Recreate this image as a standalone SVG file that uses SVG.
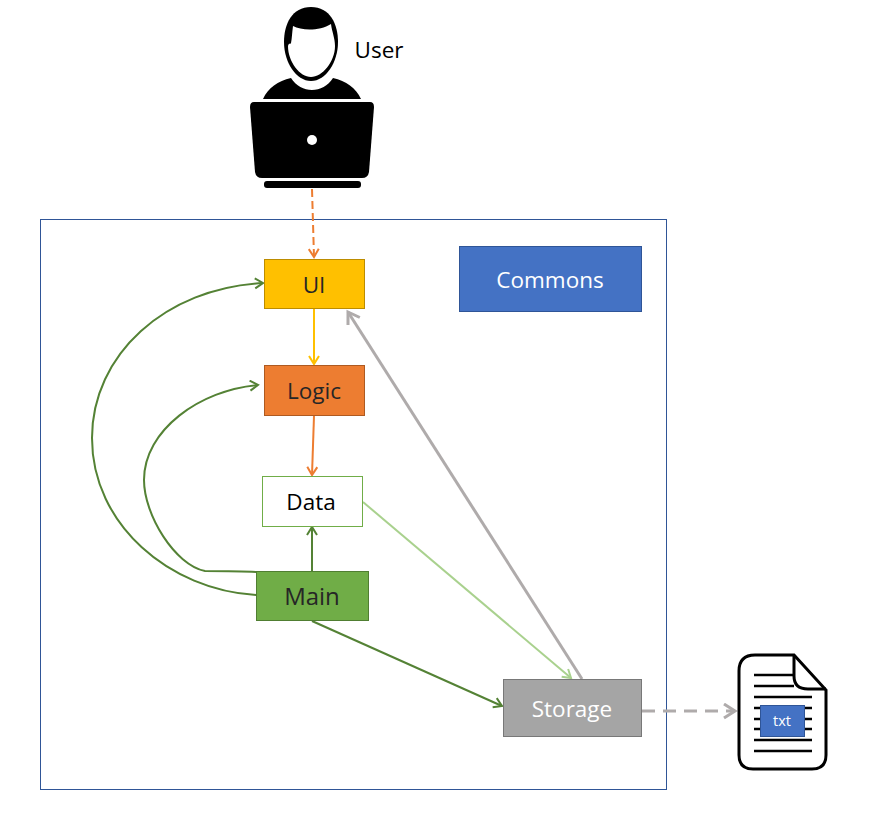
<svg xmlns="http://www.w3.org/2000/svg" width="873" height="813" viewBox="0 0 873 813">
<style>
text{font-family:"Open Sans","Noto Sans","Liberation Sans",sans-serif;text-anchor:middle;font-size:22.500px;fill:#262626}
.c{fill:none;stroke-width:2}
.g{stroke:#548235}
.ln{stroke:#000;stroke-width:2.6;fill:none}
</style>
<defs>
<marker id="ag" markerUnits="userSpaceOnUse" markerWidth="14" markerHeight="14" refX="10" refY="6" orient="auto"><path d="M2 1L10 6L2 11" fill="none" stroke="#548235" stroke-width="2"/></marker>
<marker id="ay" markerUnits="userSpaceOnUse" markerWidth="14" markerHeight="14" refX="10" refY="6" orient="auto"><path d="M2 1L10 6L2 11" fill="none" stroke="#ffc000" stroke-width="2"/></marker>
<marker id="ao" markerUnits="userSpaceOnUse" markerWidth="14" markerHeight="14" refX="10" refY="6" orient="auto"><path d="M2 1L10 6L2 11" fill="none" stroke="#ed7d31" stroke-width="2"/></marker>
<marker id="al" markerUnits="userSpaceOnUse" markerWidth="14" markerHeight="14" refX="10" refY="6" orient="auto"><path d="M2 1L10 6L2 11" fill="none" stroke="#a9d18e" stroke-width="2"/></marker>
<marker id="ax" markerUnits="userSpaceOnUse" markerWidth="18" markerHeight="18" refX="13" refY="8" orient="auto"><path d="M2 1L13 8L2 15" fill="none" stroke="#afabab" stroke-width="3"/></marker>
</defs>
<rect id="boundary" x="40.5" y="219.5" width="626" height="570" fill="#fff" stroke="#2f5597" stroke-width="1"/>
<g id="user">
<path d="M311 7C292 7 284 24 284 42C284 62 296 81 311 81C326 81 338 62 338 42C338 24 330 7 311 7Z" fill="#000"/>
<path d="M293 26C302 31 320 31 331 24C332 32 335 38 335 46C335 62 322 77 311 77C300 77 288 62 288 46C289 42 290 45 291 43C292 38 292 33 293 26Z" fill="#fff"/>
<path d="M263 99C268 88 278 81 291 78C296 86 304 90 312 90C320 90 328 86 333 78C346 81 356 88 361 99Z" fill="#000"/>
<path d="M254 102H370Q374 102 374 107L369 172Q368 178 362 178H262Q256 178 255 172L250 107Q250 102 254 102Z" fill="#000"/>
<circle cx="312" cy="140" r="5" fill="#fff"/>
<rect x="264" y="181" width="97" height="7" rx="3" fill="#000"/>
<text x="379" y="58" style="fill:#000">User</text>
</g>
<g id="connectors">
<path class="c" d="M312 189L314 257" stroke="#ed7d31" stroke-dasharray="8 4" marker-end="url(#ao)"/>
<path class="c" d="M314 309V364" stroke="#ffc000" marker-end="url(#ay)"/>
<path class="c" d="M314 416L312 475" stroke="#ed7d31" marker-end="url(#ao)"/>
<path class="c g" d="M312 571V527" marker-end="url(#ag)"/>
<path class="c g" d="M256 572C240 571 220 571 205 571C175 565 144 515 144 480C144 430 200 390 258 385" marker-end="url(#ag)"/>
<path class="c g" d="M256 595C170 590 92 525 92 438C92 355 165 288 263 283" marker-end="url(#ag)"/>
<path class="c g" d="M312 621L502 706" marker-end="url(#ag)"/>
<path class="c" d="M363 502L571 678" stroke="#a9d18e" marker-end="url(#al)"/>
<path class="c" d="M582 679L348 312" stroke="#afabab" style="stroke-width:3" marker-end="url(#ax)"/>
<path class="c" d="M642 711H735" stroke="#afabab" stroke-dasharray="13 8" style="stroke-width:3" marker-end="url(#ax)"/>
</g>
<g id="ui"><rect x="264.500" y="259.500" width="100" height="49" fill="#ffc000" stroke="#bc8c00"/><text x="314" y="293">UI</text></g>
<g id="logic"><rect x="264.500" y="365.500" width="100" height="50" fill="#ed7d31" stroke="#ae5a21"/><text x="314" y="399">Logic</text></g>
<g id="data"><rect x="262.500" y="476.500" width="100" height="50" fill="#fff" stroke="#70ad47"/><text x="311" y="510" style="fill:#000">Data</text></g>
<g id="main"><rect x="256.500" y="571.500" width="112" height="49" fill="#70ad47" stroke="#507e32"/><text x="312" y="605" style="font-size:24px">Main</text></g>
<g id="commons"><rect x="459.500" y="246.500" width="182" height="65" fill="#4472c4" stroke="#2f5597"/><text x="550" y="288" style="fill:#fff">Commons</text></g>
<g id="storage"><rect x="503.500" y="679.500" width="138" height="57" fill="#a5a5a5" stroke="#787878"/><text x="572" y="717" style="fill:#fff">Storage</text></g>
<g id="file">
<path d="M755 655H794L826 690V755Q826 769 812 769H753Q739 769 739 755V671Q739 655 755 655Z" fill="#fff" stroke="#000" stroke-width="3"/>
<path d="M794 655V676Q794 689 808 689H826" fill="none" stroke="#000" stroke-width="3"/>
<path class="ln" d="M754 675H794M754 686H794M754 697H812M754 708H812M754 719H812M754 729H812M754 740H812M754 751H812"/>
<rect x="760.500" y="705.500" width="44" height="31" fill="#4472c4" stroke="#2f5597"/>
<text x="782" y="726" style="font-size:14.500px;fill:#fff">txt</text>
</g>
</svg>
